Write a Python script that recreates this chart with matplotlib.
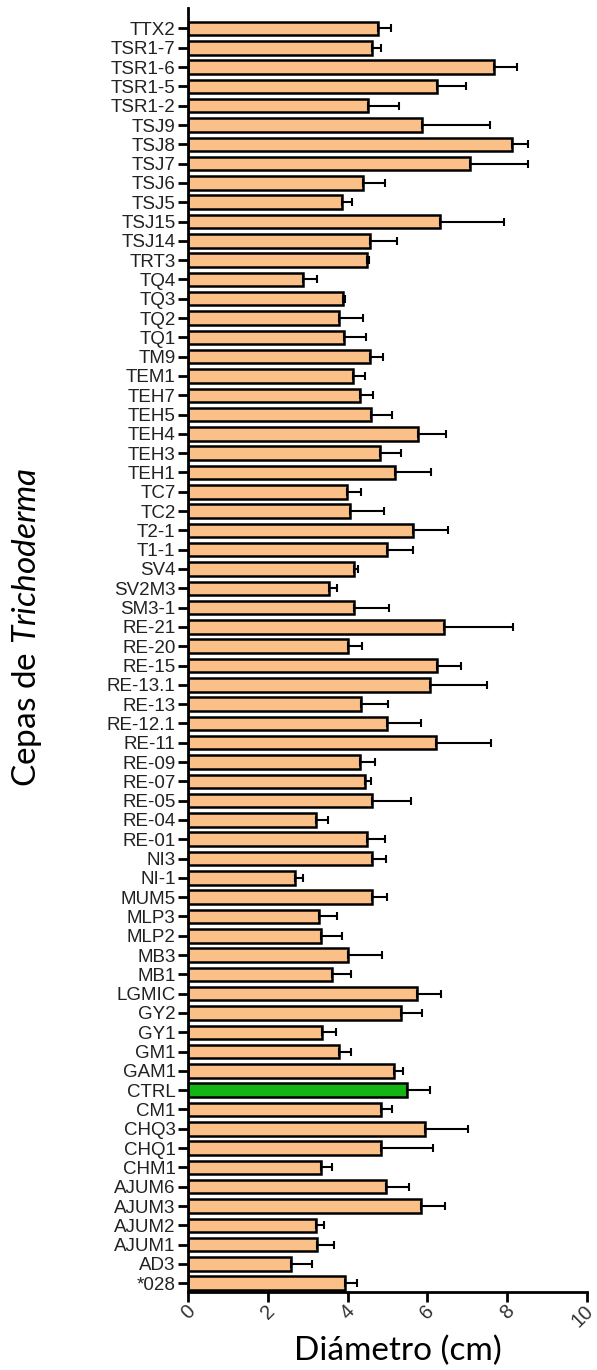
import numpy as np
import matplotlib

matplotlib.use("Agg")
import matplotlib.pyplot as plt
import matplotlib.transforms as mtransforms

# Strains listed top to bottom as in the figure
cepas = ["TTX2", "TSR1-7", "TSR1-6", "TSR1-5", "TSR1-2", "TSJ9", "TSJ8", "TSJ7",
         "TSJ6", "TSJ5", "TSJ15", "TSJ14", "TRT3", "TQ4", "TQ3", "TQ2", "TQ1",
         "TM9", "TEM1", "TEH7", "TEH5", "TEH4", "TEH3", "TEH1", "TC7", "TC2",
         "T2-1", "T1-1", "SV4", "SV2M3", "SM3-1", "RE-21", "RE-20", "RE-15",
         "RE-13.1", "RE-13", "RE-12.1", "RE-11", "RE-09", "RE-07", "RE-05",
         "RE-04", "RE-01", "NI3", "NI-1", "MUM5", "MLP3", "MLP2", "MB3", "MB1",
         "LGMIC", "GY2", "GY1", "GM1", "GAM1", "CTRL", "CM1", "CHQ3", "CHQ1",
         "CHM1", "AJUM6", "AJUM3", "AJUM2", "AJUM1", "AD3", "*028"]

diametro = [4.76, 4.61, 7.68, 6.24, 4.51, 5.87, 8.13, 7.08,
            4.38, 3.86, 6.32, 4.56, 4.48, 2.89, 3.88, 3.79, 3.90,
            4.56, 4.13, 4.32, 4.59, 5.77, 4.82, 5.20, 3.98, 4.07,
            5.64, 5.00, 4.15, 3.54, 4.15, 6.41, 4.02, 6.24,
            6.07, 4.34, 4.98, 6.22, 4.30, 4.44, 4.62,
            3.22, 4.48, 4.61, 2.67, 4.61, 3.28, 3.34, 4.01, 3.61,
            5.74, 5.33, 3.36, 3.79, 5.16, 5.48, 4.85, 5.93, 4.85,
            3.34, 4.96, 5.83, 3.20, 3.24, 2.57, 3.94]

desv = [0.32, 0.22, 0.56, 0.73, 0.78, 1.70, 0.39, 1.44,
        0.56, 0.25, 1.60, 0.67, 0.06, 0.34, 0.06, 0.60, 0.56,
        0.33, 0.31, 0.33, 0.53, 0.70, 0.53, 0.88, 0.36, 0.85,
        0.89, 0.64, 0.11, 0.19, 0.90, 1.73, 0.33, 0.61,
        1.42, 0.68, 0.85, 1.37, 0.39, 0.14, 0.98,
        0.28, 0.46, 0.36, 0.22, 0.37, 0.46, 0.51, 0.85, 0.47,
        0.61, 0.54, 0.35, 0.29, 0.23, 0.58, 0.27, 1.08, 1.29,
        0.27, 0.57, 0.62, 0.22, 0.41, 0.54, 0.29]

xticks = [0, 2, 4, 6, 8, 10]

ORANGE = "#FBBF88"
GREEN = "#14B414"

plt.rcParams["mathtext.fontset"] = "custom"
plt.rcParams["mathtext.it"] = "Lato:italic"
plt.rcParams["mathtext.rm"] = "Lato"

fig = plt.figure(figsize=(5.97, 13.70), dpi=100)
ax = fig.add_axes([0.315, 0.057, 0.668, 0.937])

n = len(cepas)
y = np.arange(n)[::-1]  # first strain at the top
colors = [GREEN if c == "CTRL" else ORANGE for c in cepas]

ax.barh(y, diametro, height=0.7, color=colors, edgecolor="black",
        linewidth=1.8, zorder=2)
ax.errorbar(diametro, y, xerr=[np.zeros(n), desv], fmt="none",
            ecolor="black", elinewidth=1.5, capsize=3, capthick=1.5,
            zorder=3)

ax.set_xlim(0, 10)
ax.set_ylim(-0.45, n - 1 + 1.05)
ax.set_yticks(y)
ax.set_yticklabels(cepas, family="Liberation Sans", fontsize=13.5,
                   color="#222222")
ax.set_xticks(xticks)
ax.tick_params(axis="x", labelbottom=False)

# rotated x tick labels drawn as text so the last one can stay inside the page
base = mtransforms.blended_transform_factory(ax.transData, ax.transAxes)
for v in xticks:
    dx = -4 if v == xticks[-1] else 0
    tr = mtransforms.offset_copy(base, fig=fig, x=dx, y=-10, units="dots")
    ax.text(v, 0, str(v), transform=tr, family="Liberation Sans",
            fontsize=14.5, color="#333333", rotation=45,
            ha="center", va="top", clip_on=False)

for s in ["top", "right"]:
    ax.spines[s].set_visible(False)
for s in ["left", "bottom"]:
    ax.spines[s].set_linewidth(2)
ax.tick_params(axis="both", direction="out", width=2, length=7)
ax.tick_params(axis="y", pad=2)

ax.set_xlabel("Diámetro (cm)", family="Lato", fontsize=24)
ax.xaxis.set_label_coords(0.525, -0.034)
fig.text(0.046, 0.542, r"Cepas de $Trichoderma$", rotation=90,
         family="Lato", fontsize=24, ha="center", va="center")

fig.savefig("out.png", dpi=100)
